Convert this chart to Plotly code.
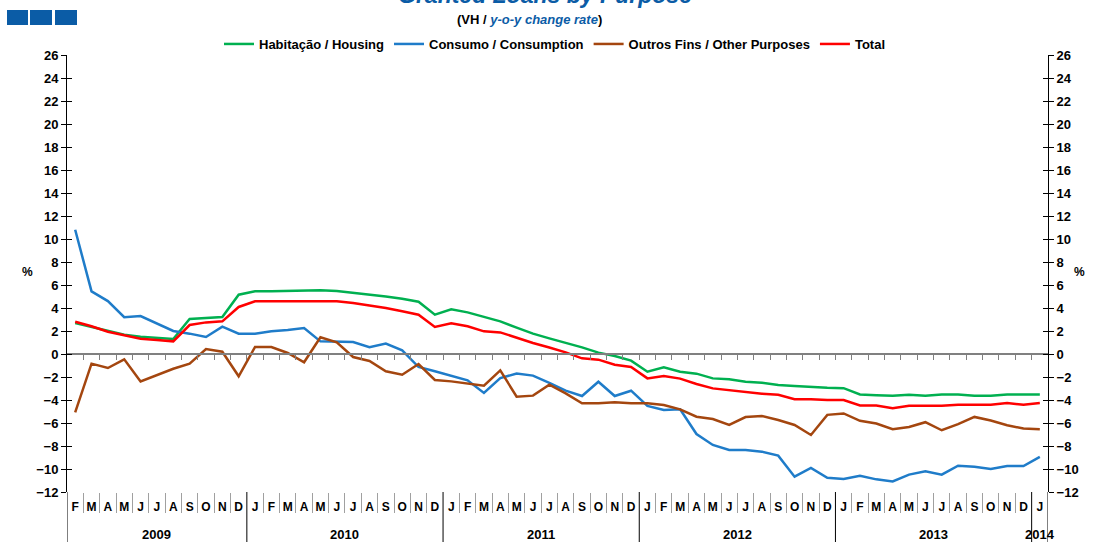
import plotly.graph_objects as go

# ---------------- data ----------------
months = (["F", "M", "A", "M", "J", "J", "A", "S", "O", "N", "D"]
          + ["J", "F", "M", "A", "M", "J", "J", "A", "S", "O", "N", "D"] * 4
          + ["J"])
years = ["2009", "2010", "2011", "2012", "2013", "2014"]
year_first_index = [0, 11, 23, 35, 47, 59]

housing = [2.7, 2.35, 1.97, 1.68, 1.5, 1.39, 1.3, 3.04, 3.13, 3.22, 5.16, 5.45, 5.45, 5.48, 5.54,
           5.54, 5.48, 5.33, 5.22, 5.01, 4.81, 4.55, 3.42, 3.88, 3.62, 3.25, 2.84, 2.29, 1.77, 1.36,
           0.99, 0.58, 0.12, -0.17, -0.58, -1.54, -1.16, -1.54, -1.71, -2.12, -2.2, -2.41, -2.49, -2.7, -2.78, -2.87,
           -2.94, -2.97, -3.52, -3.58, -3.63, -3.55, -3.63, -3.52, -3.52, -3.63, -3.63, -3.52, -3.52, -3.52]
consumption = [10.8, 5.45, 4.6, 3.2, 3.3, 2.67, 2.0, 1.77, 1.48, 2.38, 1.77, 1.77, 1.97, 2.09, 2.26,
               1.1, 1.04, 1.04, 0.6, 0.9, 0.32, -1.13, -1.5, -1.88, -2.29, -3.39, -2.1, -1.7, -1.88, -2.52,
               -3.19, -3.65, -2.41, -3.65, -3.19, -4.52, -4.87, -4.81, -6.96, -7.91, -8.35, -8.35, -8.49, -8.84, -10.67, -9.9,
               -10.76, -10.87, -10.58, -10.9, -11.08, -10.49, -10.2, -10.49, -9.71, -9.8, -10.0, -9.74, -9.74, -8.95]
other = [-5.07, -0.84, -1.22, -0.46, -2.38, -1.8, -1.28, -0.84, 0.43, 0.2, -1.94, 0.61, 0.61, 0.09, -0.72,
         1.45, 1.01, -0.26, -0.61, -1.5, -1.8, -0.87, -2.26, -2.38, -2.58, -2.75, -1.42, -3.71, -3.62, -2.67,
         -3.42, -4.29, -4.29, -4.2, -4.29, -4.29, -4.43, -4.81, -5.45, -5.65, -6.17, -5.48, -5.39, -5.74, -6.17, -7.04,
         -5.29, -5.17, -5.81, -6.05, -6.54, -6.34, -5.93, -6.63, -6.1, -5.47, -5.78, -6.19, -6.48, -6.54]
total = [2.81, 2.41, 1.94, 1.65, 1.33, 1.22, 1.1, 2.52, 2.75, 2.84, 4.09, 4.58, 4.58, 4.58, 4.58,
         4.58, 4.58, 4.43, 4.23, 4.0, 3.71, 3.42, 2.35, 2.67, 2.41, 1.97, 1.88, 1.39, 0.96, 0.57,
         0.14, -0.38, -0.49, -0.93, -1.13, -2.12, -1.91, -2.14, -2.61, -2.99, -3.16, -3.33, -3.45, -3.54, -3.94, -3.94,
         -4.01, -4.01, -4.48, -4.48, -4.71, -4.51, -4.51, -4.51, -4.42, -4.42, -4.42, -4.27, -4.42, -4.27]

series_names = ["Habitação / Housing", "Consumo / Consumption", "Outros Fins / Other Purposes", "Total"]
series_values = [housing, consumption, other, total]
series_colors = ["#00B050", "#1F7CC9", "#A4460F", "#FF0000"]

y_ticks = list(range(-12, 27, 2))
Y_MIN, Y_MAX = -12, 26

# ---------------- geometry ----------------
W, H = 1095, 542
L, R, T, B = 67, 47, 55, 50
PW, PH = W - L - R, H - T - B


def px(xp):
    return (xp - L) / PW


def py(yp):
    return (H - B - yp) / PH


FONT = "Liberation Sans, Arial, sans-serif"
idx = list(range(len(months)))
n = len(months)
boundaries = [i - 0.5 for i in range(1, n)]
year_bounds = [i - 0.5 for i in year_first_index[1:]]
month_bounds = [b for b in boundaries if b not in year_bounds]

fig = go.Figure()
for name, vals, col in zip(series_names, series_values, series_colors):
    fig.add_trace(go.Scatter(x=idx, y=vals, mode="lines", name=name,
                             line=dict(color=col, width=2.5)))

axis_font = dict(family=FONT, size=13, color="black", weight="bold")

fig.update_layout(
    width=W, height=H,
    margin=dict(l=L, r=R, t=T, b=B, autoexpand=False),
    paper_bgcolor="white", plot_bgcolor="white",
    font=dict(family=FONT, color="black"),
    showlegend=True,
    legend=dict(orientation="h", x=px(555), xanchor="center", y=py(44), yanchor="middle",
                font=dict(family=FONT, size=13, color="black", weight="bold"),
                itemwidth=30, bgcolor="rgba(0,0,0,0)"),
    xaxis=dict(range=[-0.5, n - 0.5], tickmode="array", tickvals=idx, ticktext=months,
               ticks="", showline=False, showgrid=False, zeroline=False, automargin=False,
               tickfont=dict(family=FONT, size=12, color="black", weight="bold"),
               ticklabelstandoff=6, fixedrange=True),
    xaxis2=dict(overlaying="x", anchor="free", position=(0 - Y_MIN) / (Y_MAX - Y_MIN),
                side="bottom", range=[-0.5, n - 0.5], tickmode="array", tickvals=boundaries,
                ticks="outside", ticklen=5, tickcolor="#808080", showline=True,
                linecolor="#808080", linewidth=1.5, showticklabels=False, showgrid=False,
                zeroline=False, automargin=False),
    xaxis3=dict(overlaying="x", anchor="y", side="bottom", range=[-0.5, n - 0.5],
                tickmode="array", tickvals=month_bounds, ticks="outside", ticklen=20,
                tickcolor="#A0A0A0", showline=False, showticklabels=False, showgrid=False,
                zeroline=False, automargin=False),
    yaxis=dict(range=[Y_MIN, Y_MAX], tickmode="array", tickvals=y_ticks, ticks="outside",
               ticklen=5, tickcolor="black", showline=True, linecolor="black", linewidth=1,
               showgrid=False, zeroline=False, tickfont=axis_font, automargin=False),
    yaxis3=dict(overlaying="y", side="left", range=[Y_MIN, Y_MAX], tickmode="array",
                tickvals=y_ticks, ticks="inside", ticklen=5, tickcolor="black",
                showline=False, showgrid=False, zeroline=False, showticklabels=False,
                automargin=False),
    yaxis2=dict(overlaying="y", side="right", anchor="x", range=[Y_MIN, Y_MAX], tickmode="array",
                tickvals=y_ticks, ticks="outside", ticklen=5, tickcolor="black",
                showline=True, linecolor="black", linewidth=1, showgrid=False,
                zeroline=False, tickfont=axis_font, automargin=False),
    yaxis4=dict(overlaying="y", side="right", anchor="x", range=[Y_MIN, Y_MAX], tickmode="array",
                tickvals=y_ticks, ticks="inside", ticklen=5, tickcolor="black",
                showline=False, showgrid=False, zeroline=False, showticklabels=False,
                automargin=False),
)

# invisible traces to activate the overlay axes
for xa, ya in [("x2", "y"), ("x3", "y"), ("x", "y2"), ("x", "y3"), ("x", "y4")]:
    fig.add_trace(go.Scatter(x=[None], y=[None], xaxis=xa, yaxis=ya, showlegend=False,
                             hoverinfo="skip"))

shapes = []
# year separators and axis extensions into label area
for b in [-0.5] + year_bounds + [n - 0.5]:
    shapes.append(dict(type="line", xref="x", yref="paper", x0=b, x1=b, y0=0, y1=py(H),
                       line=dict(color="black", width=1)))
# blue logo blocks
for x0, x1 in [(7, 28), (30, 52), (55, 77)]:
    shapes.append(dict(type="rect", xref="paper", yref="paper", x0=px(x0), x1=px(x1),
                       y0=py(25), y1=py(10), fillcolor="#0B5CA6", line=dict(width=0)))
fig.update_layout(shapes=shapes)

annotations = []
# year labels
year_centers = []
for k, y in enumerate(years):
    start = year_first_index[k]
    end = year_first_index[k + 1] - 1 if k + 1 < len(year_first_index) else n - 1
    year_centers.append((start + end) / 2)
for yc, ylab in zip(year_centers, years):
    annotations.append(dict(x=yc, xref="x", y=py(534), yref="paper", text=ylab, showarrow=False,
                            xanchor="center", yanchor="middle",
                            font=dict(family=FONT, size=13, color="black", weight="bold")))
# title (partially cut off at the top, as in the original)
annotations.append(dict(x=px(545), y=py(-5), xref="paper", yref="paper",
                        text="<b><i>Granted Loans by Purpose</i></b>", showarrow=False,
                        xanchor="center", yanchor="middle",
                        font=dict(family=FONT, size=23, color="#0B5CA6")))
annotations.append(dict(x=px(529), y=py(20), xref="paper", yref="paper",
                        text="<b>(VH / <i><span style='color:#0B5CA6'>y-o-y change rate</span></i>)</b>",
                        showarrow=False, xanchor="center", yanchor="middle",
                        font=dict(family=FONT, size=13, color="black")))
annotations.append(dict(x=px(20), y=py(272), xref="paper", yref="paper", text="<b>%</b>",
                        showarrow=False, font=dict(family=FONT, size=12, color="black")))
annotations.append(dict(x=px(1087), y=py(272), xref="paper", yref="paper", text="<b>%</b>",
                        showarrow=False, font=dict(family=FONT, size=12, color="black")))
fig.update_layout(annotations=annotations)

fig.write_html("out.html", config={"displayModeBar": False},
               post_script="document.body.style.margin='0px';document.body.style.overflow='hidden';")
